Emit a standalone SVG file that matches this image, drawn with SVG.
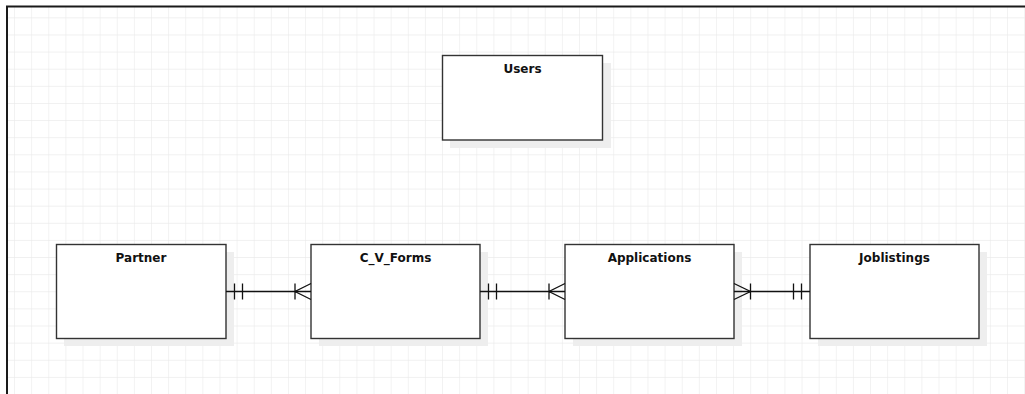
<svg xmlns="http://www.w3.org/2000/svg" width="1025" height="394" viewBox="0 0 1025 394">
  <defs>
    <pattern id="grid" x="-2.12" y="1.2" width="17.12" height="17.12" patternUnits="userSpaceOnUse">
      <path d="M17.12 0 V17.12 M0 17.12 H17.12" fill="none" stroke="#ebebeb" stroke-width="1.2"/>
    </pattern>
  </defs>
  <style>
    .shadow { fill: #eeeeee; }
    .box { fill: #ffffff; stroke: #333333; stroke-width: 1.4; }
    .label { font-family: "DejaVu Sans", sans-serif; font-weight: bold; font-size: 12px; fill: #111111; text-anchor: middle; }
    .conn { fill: none; stroke: #111111; stroke-width: 1.3; }
  </style>
  <rect x="0" y="0" width="1025" height="394" fill="#ffffff"/>
  <rect x="7" y="6" width="1030" height="400" fill="url(#grid)"/>
  <path d="M7 400 V6.5 H1030" fill="none" stroke="#1a1a1a" stroke-width="2"/>

  <g id="users">
    <rect class="shadow" x="450" y="63" width="161" height="85"/>
    <rect class="box" x="442.5" y="55.5" width="160" height="84.5"/>
    <text class="label" x="522.5" y="73">Users</text>
  </g>
  <g id="partner">
    <rect class="shadow" x="64" y="252" width="170" height="94"/>
    <rect class="box" x="56.5" y="244.5" width="169.5" height="94"/>
    <text class="label" x="141" y="262">Partner</text>
  </g>
  <g id="cv_forms">
    <rect class="shadow" x="319" y="252" width="169" height="94"/>
    <rect class="box" x="311" y="244.5" width="169" height="94"/>
    <text class="label" x="395.5" y="262">C_V_Forms</text>
  </g>
  <g id="applications">
    <rect class="shadow" x="573" y="252" width="169" height="94"/>
    <rect class="box" x="565" y="244.5" width="169" height="94"/>
    <text class="label" x="649.5" y="262">Applications</text>
  </g>
  <g id="joblistings">
    <rect class="shadow" x="818" y="252" width="169" height="94"/>
    <rect class="box" x="810" y="244.5" width="169" height="94"/>
    <text class="label" x="894.5" y="262">Joblistings</text>
  </g>

  <g id="connectors">
    <!-- Partner -> C_V_Forms -->
    <path class="conn" d="M226 291.5 H311"/>
    <path class="conn" d="M234.5 283.5 V299.5 M242.5 283.5 V299.5"/>
    <path class="conn" d="M295 283.5 V299.5 M311 283.5 L295 291.5 L311 299.5"/>
    <!-- C_V_Forms -> Applications -->
    <path class="conn" d="M480 291.5 H565"/>
    <path class="conn" d="M488.5 283.5 V299.5 M496.5 283.5 V299.5"/>
    <path class="conn" d="M549 283.5 V299.5 M565 283.5 L549 291.5 L565 299.5"/>
    <!-- Applications -> Joblistings -->
    <path class="conn" d="M734 291.5 H810"/>
    <path class="conn" d="M750.5 283.5 V299.5 M734 283.5 L750.5 291.5 L734 299.5"/>
    <path class="conn" d="M793.5 283.5 V299.5 M801.5 283.5 V299.5"/>
  </g>
</svg>
